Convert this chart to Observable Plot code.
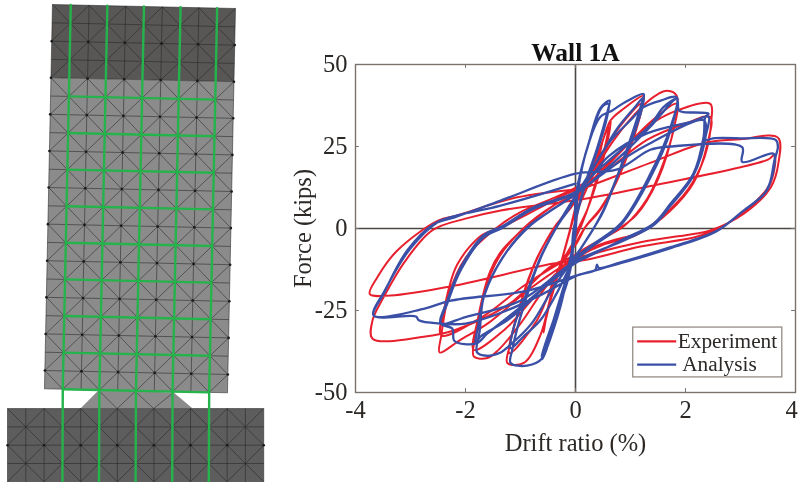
<!DOCTYPE html>
<html><head><meta charset="utf-8">
<script src="https://cdn.jsdelivr.net/npm/d3@7"></script>
<script src="https://cdn.jsdelivr.net/npm/@observablehq/plot@0.6"></script>
<style>
html,body{margin:0;padding:0;background:#fff;width:799px;height:482px;overflow:hidden}
#mesh,#hyst{position:absolute;top:0;filter:blur(0.45px)}
#mesh{left:0}#hyst{left:270px}
svg{background:transparent!important;display:block}
</style></head><body>
<div id="mesh"></div><div id="hyst"></div>
<script>
// ---------- hysteresis data: [drift %, force kips] ----------
const experiment = [
[0,0],[.05,6],[.2,12],[.39,19],[.5,27],[.64,33],[.6,28],[.42,16],[.22,6],[0,-2],[-.05,-6],[-.22,-9],[-.4,-17.4],[-.52,-26],[-.58,-31.7],[-.55,-28],[-.36,-16.5],[-.12,-2],[0,5],[.2,12],[.39,20],[.5,27],[.6,31],[.55,26],[.38,15],[.2,5],[0,-3],[-.2,-9],[-.38,-17],[-.5,-25],[-.57,-30],[-.5,-24],[-.34,-15],[-.11,-1],
[.03,8],[.25,16],[.5,27],[.64,33],[.88,36.6],[1.24,40.5],[1.22,38],[1.15,33.5],[.76,15],[.45,6],[.2,1],[0,-5],[-.22,-9],[-.4,-17.4],[-.64,-32.6],[-.94,-41],[-1.24,-41],[-1.2,-36],[-1.06,-26.5],[-.73,-10.4],[-.36,1],[-.1,6],[.1,11],[.4,20],[.8,31],[1.2,38],[1.12,31],[.74,14],[.42,5],[.18,.5],[-.05,-6],[-.3,-12],[-.7,-28],[-1.2,-38],[-1.02,-24],[-.7,-9],[-.33,1.5],[-.1,6.5],[.1,11],
[.7,27],[1.2,37],[1.5,41],[1.67,42],[1.84,40.5],[1.82,33],[1.6,20],[1.3,9],[.9,1],[.4,-4],[0,-9],[-.5,-17],[-1,-29],[-1.4,-37],[-1.6,-39.5],[-1.85,-39],[-1.82,-33],[-1.65,-19],[-1.4,-9],[-.95,0],[-.4,7],[.1,11],[.8,23],[1.4,33],[1.84,38],[1.78,30],[1.5,15],[1.1,4],[.6,-2],[0,-8],[-.7,-20],[-1.3,-31],[-1.85,-37],[-1.78,-28],[-1.55,-13],[-1.35,-7],[-.9,.5],[-.4,7],[.1,11.5],
[.6,20],[1.3,31],[1.85,36],[2.45,38],[2.47,33],[2.35,22],[2.05,12],[1.6,4],[1.1,-2],[.5,-5],[0,-9],[-.8,-18],[-1.6,-29],[-2.1,-34],[-2.47,-37.8],[-2.44,-32.6],[-2.3,-20],[-2,-9],[-1.45,0],[-1,5],[-.3,10],[.5,17],[1.3,27],[2,32],[2.45,34],[2.4,26],[2.15,14],[1.7,5],[1.2,-1],[.6,-4],[0,-8],[-.9,-17],[-1.7,-27],[-2.44,-32.6],[-2.38,-24],[-2.15,-11],[-1.7,-2],[-1.4,0],[-.8,5],[-.1,11],
[.1,12],[1.36,20],[2.33,26],[3,27.2],[3.68,27.7],[3.69,20],[3.55,12.5],[3.06,4.5],[2.45,-.6],[2.2,-1.5],[1.18,-4.2],[.2,-8.2],[-.4,-11],[-1.2,-23],[-2.2,-31],[-2.76,-33],[-3.69,-33.6],[-3.69,-28],[-3.49,-21],[-3.1,-10],[-2.6,-.5],[-2,3],[-1.36,5.5],[.15,9],[1.24,12.5],[3.5,21],[3.62,22.5],[3.55,14],[3.2,7],[2.6,0],[2.2,-2.5],[1.18,-5.5],[.2,-9.5],[-.4,-10.7],[-2.2,-17.4],[-3.36,-20.4],[-3.74,-20],[-3.6,-14.8],[-3.24,-6.7],[-2.5,2.4],[-2.15,4],[-1.06,9.5],[.04,12]
];
const analysis = [
[0,0],[0,9],[.09,17],[.24,26],[.45,36.6],[.62,39],[.58,35.5],[.39,24.3],[.18,14],[.05,6],[-.03,0],[-.06,-9.3],[-.15,-16.4],[-.36,-26.5],[-.6,-39.8],[-.55,-37.8],[-.27,-23.5],[-.12,-12],[0,-1.3],[0,9],[.1,17.5],[.26,27],[.48,37],[.6,38],[.56,33],[.38,23],[.17,13],[.04,5],[-.04,-1],[-.08,-10],[-.18,-17],[-.38,-27],[-.62,-39],
[-.55,-37],[-.27,-23],[-.12,-11],[0,-1],[.04,11],[.24,26],[.45,34],[.67,36],[.9,38.5],[1.24,41],[1.2,38],[1.04,29.4],[.76,16],[.52,6],[.33,0],[.1,-6],[-.06,-10],[-.2,-17],[-.4,-28],[-.6,-39.5],[-.88,-41.8],[-1.18,-41],[-1.15,-37],[-.94,-23.5],[-.64,-9.2],[-.36,0],[-.15,6],[.04,11],[.45,22],[.76,30.5],[1.06,36.6],[1.24,40],[1.2,36],[1.02,27],[.74,15],[.5,5],[.31,-.5],[.08,-6.5],[-.08,-11],[-.35,-20],[-.64,-28],[-.95,-33],[-1.18,-36.5],[-1.12,-30],[-.92,-21],[-.6,-7.5],[-.34,.5],[-.12,6],[.04,11],
[.2,15],[.6,26],[1,33],[1.24,37],[1.55,39],[1.84,40],[1.73,31],[1.36,16.6],[.82,1.5],[.3,-5],[0,-9],[-.4,-18],[-.8,-29],[-1.22,-36],[-1.36,-37.8],[-1.61,-38.8],[-1.79,-37.8],[-1.74,-31],[-1.67,-21],[-1.36,-9.8],[-.88,.3],[-.4,6],[.04,11],[.2,13],[.88,23],[1.36,31],[1.84,39.5],[1.73,30],[1.36,15.5],[.82,1],[.3,-5.5],[0,-9.5],[-.4,-15],[-.88,-23],[-1.24,-28],[-1.73,-33],[-1.82,-35],[-1.76,-29],[-1.65,-20],[-1.33,-9],[-.85,.5],[-.4,6],[.04,11],
[.3,16],[.9,25],[1.36,31.5],[1.6,37],[1.84,39.5],[1.88,36],[1.97,35.5],[2.42,35],[2.36,34],[2.33,28],[2.14,16.6],[1.73,7.6],[1.42,1.5],[.9,-3],[.3,-8],[0,-10.5],[-.5,-17],[-1,-24],[-1.6,-32],[-1.8,-35],[-2.2,-34.3],[-2.24,-30.5],[-2.45,-29],[-2.33,-22.8],[-2.09,-12.8],[-1.67,-2.7],[-1.35,0],[-.76,6],[.04,11],[.33,14.6],[.91,21.6],[1.36,26],[2.33,33],[2.36,28],[2.14,16],[1.73,7],[1.42,1],[.9,-3.5],[0,-10],[-1,-22],[-2,-27],[-2.45,-29],[-2.33,-22],[-2.09,-12],[-1.67,-2],[-1.35,.5],[-.76,6.5],[.04,11.5],
[.6,22],[1.3,29],[2.1,32.5],[2.42,34],[2.37,27],[2.5,27.5],[3,27.5],[3.64,27],[3.68,25],[3.62,21],[3.48,11.6],[3.06,5.5],[2.58,-.6],[1.73,-5.7],[.82,-10.3],[.42,-12],[.39,-11],[.36,-12.6],[.03,-14.3],[-.6,-20],[-1.4,-26],[-2,-29],[-2.45,-29],[-2.85,-28],[-2.9,-26.8],[-3.67,-26.5],[-3.49,-19.9],[-3.06,-6.7],[-2.57,1.4],[-2.2,3.4],[-1.36,8.5],[0,16.7],[.76,18],[1.36,24],[1.73,25],[3.03,24.8],[3.03,20.3],[3.6,22.8],[3.62,20],[3.45,11],[3.02,5],[2.55,-1],[1.73,-6],[.82,-10.6],[.03,-14.3],[-.88,-19],[-2.27,-22],[-2.76,-24.5],[-3.67,-26.5],[-3.47,-19],[-3,-6],[-2.5,2],[-2.15,4],[-1.36,7],[0,13.7]
];
// ---------- chart texts and ticks ----------
const chartTitle = "Wall 1A";
const xTicks = [-4,-2,0,2,4];
const yTicks = [-50,-25,0,25,50];
const legendLabels = ["Experiment","Analysis"];
const legendColors = ["#e8202e","#3a4fa6"];
const legendForce = [-34.4,-41.5];
const legendBox = {x1:1.05,x2:3.76,y1:-30.2,y2:-45.4};
const legendLineX = [1.13,1.84];
const legendTextX = [1.86,1.94];

const toRows = (a)=>a.map((p,i)=>({d:p[0],f:p[1],i}));
const serif = "'Liberation Serif','Times New Roman',serif";

const hyst = Plot.plot({
  width:529, height:482, marginLeft:85, marginRight:4, marginTop:64, marginBottom:90,
  style:{background:"transparent",fontFamily:serif,fontSize:"27px",color:"#2b2826",overflow:"visible"},
  x:{domain:[-4,4]}, y:{domain:[-50,50]},
  marks:[
    Plot.ruleX([0],{stroke:"#4b4744",strokeWidth:1.6}),
    Plot.ruleY([0],{stroke:"#4b4744",strokeWidth:1.6}),
    Plot.line(toRows(experiment),{x:"d",y:"f",stroke:legendColors[0],strokeWidth:2,curve:"catmull-rom"}),
    Plot.line(toRows(analysis),{x:"d",y:"f",stroke:legendColors[1],strokeWidth:2.3,curve:"catmull-rom"}),
    Plot.frame({stroke:"#7a736d",strokeWidth:1.4}),
    Plot.axisX({ticks:xTicks.slice(0,-1),tickFormat:d=>String(d),tickSize:0,tickPadding:8,fontSize:24.5,label:"Drift ratio (%)",labelAnchor:"center",labelArrow:"none",labelOffset:58}),
    Plot.axisX({ticks:xTicks.slice(-1),tickFormat:d=>String(d),tickSize:0,tickPadding:8,fontSize:24.5,dx:-4,label:null}),
    Plot.axisY({ticks:yTicks,tickFormat:d=>String(d),tickSize:0,tickPadding:8,fontSize:24.5,label:"Force (kips)",labelAnchor:"center",labelArrow:"none",labelOffset:62}),
    Plot.ruleX(xTicks.slice(1,-1),{y1:-50,y2:-48.8,stroke:"#7a736d"}),
    Plot.ruleX(xTicks.slice(1,-1),{y1:48.8,y2:50,stroke:"#7a736d"}),
    Plot.ruleY(yTicks.slice(1,-1),{x1:-4,x2:-3.93,stroke:"#7a736d"}),
    Plot.ruleY(yTicks.slice(1,-1),{x1:3.93,x2:4,stroke:"#7a736d"}),
    Plot.text([chartTitle],{x:0,y:50,dy:-12,fontWeight:"bold",fontSize:25.5,fill:"#111"}),
    Plot.rect([legendBox],{x1:"x1",x2:"x2",y1:"y1",y2:"y2",fill:"#fff",stroke:"#8a837d",strokeWidth:1.2}),
    Plot.ruleY(legendForce.map((f,i)=>({f,c:legendColors[i]})),{y:"f",x1:legendLineX[0],x2:legendLineX[1],stroke:"c",strokeWidth:2.2}),
    Plot.text(legendLabels,{x:(d,i)=>legendTextX[i],y:(d,i)=>legendForce[i],text:d=>d,textAnchor:"start",fontSize:21.3,fill:"#2b2826"})
  ]
});
document.getElementById("hyst").appendChild(hyst);

// ---------- finite-element mesh, in fine-cell units ----------
const meshUnitPx = 18.3;
const wallOrigin = [2.84,0.22], wallColStep=[1,0.0217], wallRowStep=[-0.0208,1];
const wallCols = 10, wallRows = 21, capRows = 4;
const baseOrigin = [0.383,22.3], baseCols = 14, baseRows = 4;
const greenCols = [1,3,5,7,9];
const greenRows = [5,7,9,11,13,15,17,19,21];
const baseGreenCols = [3,5,7,9,11];
const collar = [[5.36,21.3],[9.46,21.42],[10.5,22.3],[4.37,22.3]];
const collarLinks = [[5.36,21.3,6.37,22.3],[7.37,21.36,6.37,22.3],[7.37,21.36,8.37,22.3],[9.46,21.42,8.37,22.3]];
const capFill="#585756", wallFill="#8c8b8b", baseFill="#5e5d5d";

const W=(c,r)=>[wallOrigin[0]+c*wallColStep[0]+r*wallRowStep[0],wallOrigin[1]+c*wallColStep[1]+r*wallRowStep[1]];
const B=(c,r)=>[baseOrigin[0]+c,baseOrigin[1]+r];
const quad=(f,c0,r0,c1,r1)=>[f(c0,r0),f(c1,r0),f(c1,r1),f(c0,r1)].map(p=>({x:p[0],y:p[1]}));
function lattice(f,cols,r0,r1){
  const out=[];
  for(let c=0;c<=cols;c++) out.push([f(c,r0),f(c,r1)]);
  for(let r=r0;r<=r1;r++) out.push([f(0,r),f(cols,r)]);
  for(let c=0;c<cols;c++) for(let r=r0;r<r1;r++){
    if((c+r)%2===0) out.push([f(c,r),f(c+1,r+1)]); else out.push([f(c+1,r),f(c,r+1)]);
  }
  return out.map(l=>({x1:l[0][0],y1:l[0][1],x2:l[1][0],y2:l[1][1]}));
}
function nodes(f,cols,r0,r1){
  const out=[];
  for(let c=0;c<=cols;c+=2) for(let r=r0+2;r<r1;r+=2) out.push({x:f(c,r)[0],y:f(c,r)[1]});
  return out;
}
const meshLines=[...lattice(W,wallCols,0,wallRows),...lattice(B,baseCols,0,baseRows),
  ...collarLinks.map(l=>({x1:l[0],y1:l[1],x2:l[2],y2:l[3]}))];
const meshNodes=[...nodes(W,wallCols,0,wallRows),...nodes(B,baseCols,0,baseRows)];
const greenV=greenCols.map((c,i)=>[W(c,0),W(c,wallRows),B(baseGreenCols[i],baseRows)].map(p=>({x:p[0],y:p[1],id:c}))).flat();
const greenH=greenRows.map(r=>({x1:W(greenCols[0],r)[0],y1:W(greenCols[0],r)[1],x2:W(greenCols[4],r)[0],y2:W(greenCols[4],r)[1]}));
const fillLine=(pts,fill)=>Plot.line(pts,{x:"x",y:"y",fill,stroke:"none",curve:"linear-closed"});

const mesh = Plot.plot({
  width:270,height:482,margin:0,
  style:{background:"transparent"},
  x:{domain:[0,270/meshUnitPx],axis:null},
  y:{domain:[482/meshUnitPx,0],axis:null},
  marks:[
    fillLine(quad(W,0,0,wallCols,capRows),capFill),
    fillLine(quad(W,0,capRows,wallCols,wallRows),wallFill),
    fillLine(quad(B,0,0,baseCols,baseRows),baseFill),
    fillLine(collar.map(p=>({x:p[0],y:p[1]})),wallFill),
    Plot.link(meshLines,{x1:"x1",y1:"y1",x2:"x2",y2:"y2",stroke:"#262626",strokeWidth:.8,strokeOpacity:.7}),
    Plot.dot(meshNodes,{x:"x",y:"y",r:1.3,fill:"#1a1a1a"}),
    Plot.line(greenV,{x:"x",y:"y",z:"id",stroke:"#25b34b",strokeWidth:2.4}),
    Plot.link(greenH,{x1:"x1",y1:"y1",x2:"x2",y2:"y2",stroke:"#25b34b",strokeWidth:2.4})
  ]
});
document.getElementById("mesh").appendChild(mesh);
</script></body></html>
